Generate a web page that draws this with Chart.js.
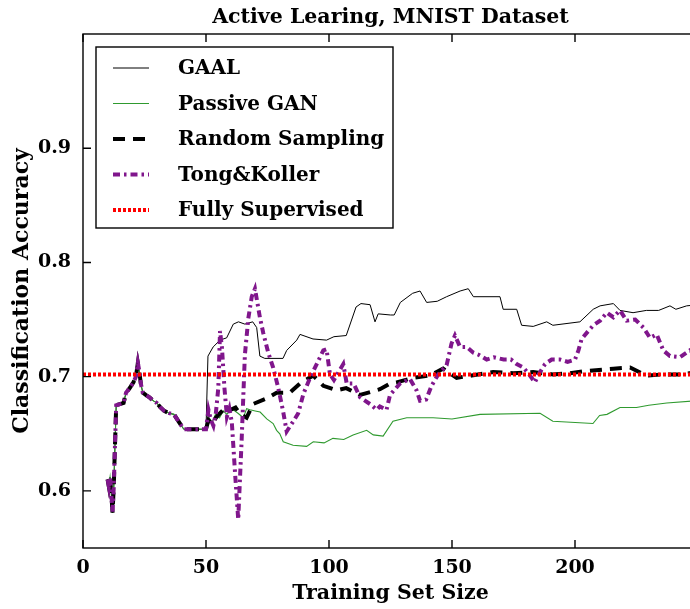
<!DOCTYPE html>
<html>
<head>
<meta charset="utf-8">
<title>Active Learing, MNIST Dataset</title>
<script src="https://cdn.jsdelivr.net/npm/chart.js@4.4.1/dist/chart.umd.min.js"></script>
<style>
  html, body { margin: 0; padding: 0; background: #fff; overflow: hidden; }
  #wrap { width: 720px; height: 609px; }
</style>
</head>
<body>
<div id="wrap"><canvas id="alChart" width="720" height="609"></canvas></div>
<script>
// values (x = training set size, y = accuracy)

// all methods share the same curve up to 50 samples
const trunkX = [10, 10.5, 11, 11.5, 12, 12.5, 13, 13.5, 15, 16.5, 17.5, 19, 20.5, 21.5, 22.3, 22.8, 23.5, 24.3, 25.5, 27, 28.5, 30, 31.5, 33, 35, 37, 38.5, 40, 41, 50];
const trunkY = [0.610, 0.604, 0.612, 0.598, 0.581, 0.603, 0.640, 0.675, 0.676, 0.677, 0.686, 0.690, 0.695, 0.700, 0.712, 0.706, 0.694, 0.686, 0.684, 0.682, 0.679, 0.677, 0.673, 0.670, 0.668, 0.667, 0.662, 0.657, 0.654, 0.654];

const gaalX = [50.3, 50.8, 52.9, 55.7, 58.4, 61.1, 63.2, 65.8, 69, 70.6, 71.9, 73.9, 81.3, 82.8, 86.9, 88.2, 93.5, 99, 102, 107, 111, 113, 116.7, 118.7, 120, 125, 126.5, 129, 134, 137, 139.7, 144, 147.8, 153.3, 156.6, 158.7, 169.5, 170.8, 176.3, 178.3, 183, 188.5, 191, 202, 207.4, 210.2, 215.6, 218.3, 223.6, 229, 234, 238.6, 241, 245.4, 250];
const gaalY = [0.654, 0.718, 0.726, 0.732, 0.734, 0.746, 0.748, 0.746, 0.748, 0.743, 0.718, 0.716, 0.716, 0.723, 0.732, 0.737, 0.733, 0.732, 0.735, 0.736, 0.761, 0.764, 0.763, 0.748, 0.755, 0.754, 0.754, 0.765, 0.773, 0.775, 0.765, 0.766, 0.770, 0.775, 0.777, 0.770, 0.770, 0.759, 0.759, 0.745, 0.744, 0.748, 0.745, 0.748, 0.759, 0.762, 0.764, 0.758, 0.756, 0.758, 0.758, 0.762, 0.759, 0.762, 0.763];

const ganX = [51, 52.5, 54, 55.5, 57, 58.5, 60, 61.1, 63, 65.2, 66.5, 67.9, 70, 72, 74.7, 77.3, 78.7, 80, 81.4, 85.4, 90.9, 93.6, 98, 101.6, 106, 109.8, 115.3, 118, 122, 126, 131.6, 142.3, 150, 161.4, 185.8, 191, 207.3, 210, 213, 218.3, 225, 230, 237.3, 250];
const ganY = [0.665, 0.660, 0.668, 0.664, 0.670, 0.667, 0.672, 0.671, 0.668, 0.664, 0.672, 0.671, 0.670, 0.669, 0.663, 0.659, 0.653, 0.650, 0.643, 0.640, 0.639, 0.643, 0.642, 0.646, 0.645, 0.649, 0.653, 0.649, 0.648, 0.661, 0.664, 0.664, 0.663, 0.667, 0.668, 0.661, 0.659, 0.666, 0.667, 0.673, 0.673, 0.675, 0.677, 0.679];

const randX = [51, 52.5, 54, 55.7, 58.4, 60, 62, 64, 66.5, 69.1, 74.7, 78.7, 84.1, 88.2, 93.6, 97.7, 103.1, 107, 112.6, 116, 120.7, 124.8, 127.5, 134.3, 141, 146.4, 151.9, 158, 166.7, 175, 183, 191, 198, 204.7, 215.6, 222.4, 229, 236, 243, 250];
const randY = [0.662, 0.658, 0.664, 0.668, 0.674, 0.671, 0.673, 0.667, 0.664, 0.676, 0.681, 0.686, 0.686, 0.694, 0.701, 0.692, 0.688, 0.690, 0.684, 0.686, 0.689, 0.694, 0.695, 0.699, 0.701, 0.707, 0.699, 0.701, 0.704, 0.703, 0.704, 0.702, 0.703, 0.705, 0.707, 0.708, 0.701, 0.702, 0.702, 0.704];

const tongX = [51, 52, 53, 54, 55, 55.7, 56.5, 57.5, 58.5, 59.5, 60.5, 61.8, 63.1, 64.5, 65.8, 67.2, 68.6, 69.9, 71.9, 73.3, 75.3, 77.3, 79.4, 81.4, 82.8, 85.5, 87.5, 89.6, 92.3, 95, 97.7, 99, 100.4, 102, 105.8, 107.2, 110, 112.6, 116.7, 119.4, 120.7, 123.4, 124.8, 128.9, 132.9, 135.6, 137, 139.5, 141.7, 144.4, 147.8, 149.8, 151.2, 153.3, 156, 158.7, 161, 164.1, 167, 171, 174, 176.3, 179, 181.7, 183.7, 185.5, 187.8, 190.5, 193.9, 197, 200, 201.4, 202.7, 205.4, 207.5, 210.2, 212.9, 215.6, 218.3, 221, 224.5, 227.8, 230.5, 233.2, 235.9, 238.6, 242.7, 246.7, 250];
const tongY = [0.671, 0.662, 0.657, 0.668, 0.690, 0.740, 0.725, 0.690, 0.665, 0.672, 0.660, 0.616, 0.575, 0.645, 0.719, 0.751, 0.770, 0.777, 0.752, 0.738, 0.721, 0.708, 0.690, 0.669, 0.652, 0.661, 0.668, 0.685, 0.699, 0.711, 0.723, 0.724, 0.702, 0.697, 0.711, 0.694, 0.694, 0.682, 0.676, 0.671, 0.674, 0.671, 0.684, 0.694, 0.698, 0.688, 0.679, 0.680, 0.692, 0.702, 0.710, 0.729, 0.736, 0.726, 0.726, 0.721, 0.719, 0.715, 0.717, 0.715, 0.715, 0.711, 0.708, 0.701, 0.695, 0.703, 0.711, 0.715, 0.715, 0.713, 0.715, 0.723, 0.733, 0.740, 0.745, 0.749, 0.756, 0.752, 0.758, 0.749, 0.750, 0.743, 0.734, 0.737, 0.723, 0.718, 0.717, 0.723, 0.720];

const fullX = [0, 250];
const fullY = [0.702, 0.702];

const xTicks = [0, 50, 100, 150, 200];
const yTicks = [0.6, 0.7, 0.8, 0.9];

const SERIF = '"DejaVu Serif", serif';

function pts(xs, ys) {
  return xs.map((x, i) => ({x: x, y: ys[i]}));
}
function withTrunk(xs, ys) {
  return pts(trunkX.concat(xs), trunkY.concat(ys));
}

// box, inward ticks, title and the boxed legend, drawn like the matplotlib original
const framePlugin = {
  id: 'frame',
  afterDraw(chart) {
    const {ctx, chartArea: a, scales} = chart;
    ctx.save();
    ctx.strokeStyle = '#000';
    ctx.lineWidth = 1.4;
    ctx.strokeRect(a.left, a.top, a.right - a.left, a.bottom - a.top);
    const len = 8;
    ctx.beginPath();
    scales.x.ticks.forEach(t => {
      const px = scales.x.getPixelForValue(t.value);
      ctx.moveTo(px, a.bottom); ctx.lineTo(px, a.bottom - len);
      ctx.moveTo(px, a.top); ctx.lineTo(px, a.top + len);
    });
    scales.y.ticks.forEach(t => {
      const py = scales.y.getPixelForValue(t.value);
      ctx.moveTo(a.left, py); ctx.lineTo(a.left + len, py);
      ctx.moveTo(a.right, py); ctx.lineTo(a.right - len, py);
    });
    ctx.stroke();

    // title
    ctx.fillStyle = '#000';
    ctx.font = 'bold 20.5px ' + SERIF;
    ctx.textAlign = 'center';
    ctx.textBaseline = 'alphabetic';
    ctx.fillText('Active Learing, MNIST Dataset', (a.left + a.right) / 2, 23);

    // legend
    const bx = a.left + 13, by = a.top + 13, bw = 297, bh = 181;
    ctx.fillStyle = '#fff';
    ctx.fillRect(bx, by, bw, bh);
    ctx.strokeStyle = '#000';
    ctx.lineWidth = 1.4;
    ctx.strokeRect(bx, by, bw, bh);
    ctx.font = 'bold 20px ' + SERIF;
    chart.data.datasets.forEach((ds, i) => {
      const cy = by + 21 + i * 35.5;
      ctx.beginPath();
      ctx.strokeStyle = ds.borderColor;
      ctx.lineWidth = ds.borderWidth;
      ctx.setLineDash(ds.borderDash || []);
      ctx.moveTo(bx + 17, cy);
      ctx.lineTo(bx + 53, cy);
      ctx.stroke();
      ctx.setLineDash([]);
      ctx.fillStyle = '#000';
      ctx.textAlign = 'left';
      ctx.textBaseline = 'middle';
      ctx.fillText(ds.label, bx + 82, cy + 1);
    });
    ctx.restore();
  }
};

const lineDefaults = {fill: false, pointRadius: 0, tension: 0, borderCapStyle: 'butt'};

new Chart(document.getElementById('alChart'), {
  type: 'line',
  data: {
    datasets: [
      Object.assign({label: 'GAAL', data: withTrunk(gaalX, gaalY), borderColor: '#000000', borderWidth: 1, order: 5}, lineDefaults),
      Object.assign({label: 'Passive GAN', data: withTrunk(ganX, ganY), borderColor: '#2f9a2f', borderWidth: 1.1, order: 4}, lineDefaults),
      Object.assign({label: 'Random Sampling', data: withTrunk(randX, randY), borderColor: '#000000', borderWidth: 4, borderDash: [12, 8], order: 3}, lineDefaults),
      Object.assign({label: 'Tong&Koller', data: withTrunk(tongX, tongY), borderColor: '#80168c', borderWidth: 4, borderDash: [7, 4, 2.5, 4], order: 2}, lineDefaults),
      Object.assign({label: 'Fully Supervised', data: pts(fullX, fullY), borderColor: '#ff0000', borderWidth: 4, borderDash: [3, 2], order: 1}, lineDefaults)
    ]
  },
  options: {
    responsive: false,
    animation: false,
    devicePixelRatio: 1,
    layout: {padding: {top: 34, right: 22, left: 0, bottom: 0}},
    plugins: {legend: {display: false}, tooltip: {enabled: false}, title: {display: false}},
    scales: {
      x: {
        type: 'linear', min: 0, max: 250,
        afterBuildTicks: s => { s.ticks = xTicks.map(v => ({value: v})); },
        afterFit: s => { s.height = 61; },
        grid: {display: false}, border: {display: false},
        ticks: {color: '#000', padding: 1, maxRotation: 0, font: {family: SERIF, size: 19, weight: 'bold'}, callback: v => String(v)},
        title: {display: true, text: 'Training Set Size', color: '#000', padding: {top: 0, bottom: 3}, font: {family: SERIF, size: 20.5, weight: 'bold'}}
      },
      y: {
        type: 'linear', min: 0.55, max: 1.0,
        afterBuildTicks: s => { s.ticks = yTicks.map(v => ({value: v})); },
        afterFit: s => { s.width = 83; },
        grid: {display: false}, border: {display: false},
        ticks: {color: '#000', padding: 4, font: {family: SERIF, size: 19, weight: 'bold'}, callback: v => v.toFixed(1)},
        title: {display: true, text: 'Classification Accuracy', color: '#000', padding: {top: 9, bottom: 0}, font: {family: SERIF, size: 22, weight: 'bold'}}
      }
    }
  },
  plugins: [framePlugin]
});
</script>
</body>
</html>
